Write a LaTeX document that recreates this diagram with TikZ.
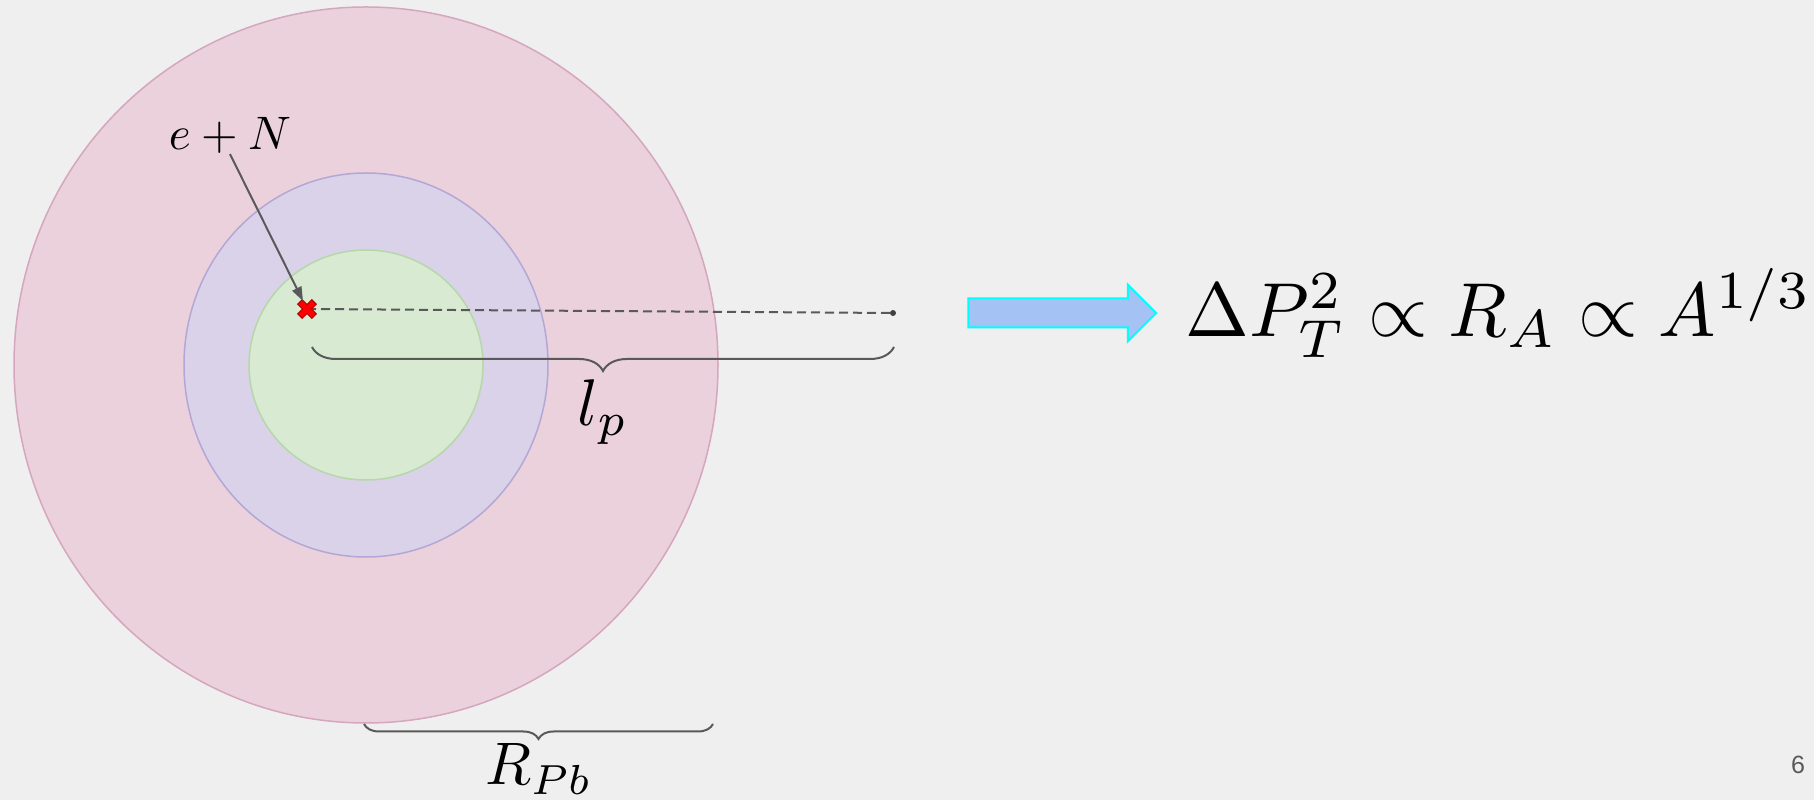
\documentclass[tikz,border=0pt]{standalone}
\usepackage{amsmath,amssymb}
\usepackage{graphicx}
\usepackage{xcolor}
\usepackage{fontspec}
\usepackage{tikz}
\usetikzlibrary{shapes.arrows,arrows.meta,positioning,decorations.pathreplacing}
\newfontfamily\slidefont{Liberation Sans}
\newcommand{\bigmath}[2]{\scalebox{#1}{$#2$}}
\definecolor{slidebg}{HTML}{EFEFEF}
\definecolor{pbfill}{HTML}{EAD1DC}
\definecolor{pbdraw}{HTML}{D5A6BD}
\definecolor{midfill}{HTML}{D9D2E9}
\definecolor{middraw}{HTML}{B4A7D6}
\definecolor{corefill}{HTML}{D9EAD3}
\definecolor{coredraw}{HTML}{B6D7A8}
\definecolor{linegray}{HTML}{595959}
\definecolor{arrowfill}{HTML}{A4C2F4}
\definecolor{arrowdraw}{HTML}{00FFFF}

\begin{document}
\begin{tikzpicture}[
    x=1pt, y=1pt,
    ring/.style={draw=#1, line width=1.5pt},
    guide/.style={draw=linegray, line width=2pt},
    spanbrace/.style={decorate, decoration={brace, mirror, amplitude=#1}, draw=linegray, line width=2pt},
    mathlbl/.style={inner sep=0pt}
]
\fill[slidebg] (0,0) rectangle (1814,800);
\useasboundingbox (0,0) rectangle (1814,800);
\coordinate (center) at (366,435);
\filldraw[ring=pbdraw, fill=pbfill] (center) ellipse [x radius=352pt, y radius=358pt];
\filldraw[ring=middraw, fill=midfill] (center) ellipse [x radius=182pt, y radius=192pt];
\filldraw[ring=coredraw, fill=corefill] (center) ellipse [x radius=117pt, y radius=115pt];
\coordinate (hit) at (307,491);
\node (far) [circle, fill=black!75, inner sep=0pt, minimum size=6pt] at (893,487) {};
\draw[guide, dash pattern=on 9pt off 5pt] (hit) -- (far);
\filldraw[fill=red, draw=red!70!black, line width=1pt, shift={(hit)}, rotate=45]
    (3.2,3.2) -- (3.2,10) -- (-3.2,10) -- (-3.2,3.2) -- (-10,3.2) -- (-10,-3.2) -- (-3.2,-3.2) -- (-3.2,-10)
    -- (3.2,-10) -- (3.2,-3.2) -- (10,-3.2) -- (10,3.2) -- cycle;
\node (eN) [mathlbl, anchor=base] at (230,650) {\bigmath{4.7}{e+N}};
\draw[guide, -{Triangle[length=14pt, width=10pt]}, shorten >=9pt] (eN.south) -- (hit);
\draw[spanbrace=24pt] (312,453) -- (894,453);
\node (lp) [mathlbl, anchor=base] at (603,374) {\bigmath{6.6}{l_p}};
\draw[spanbrace=15pt] (364,76) -- (713,76);
\node (rpb) [mathlbl, anchor=base] at (539,15) {\bigmath{6.0}{R_{Pb}}};
\node (push) [single arrow, draw=arrowdraw, fill=arrowfill, line width=2pt, minimum height=188pt,
    minimum width=55pt, single arrow head extend=14pt, inner xsep=0pt, inner ysep=13.5pt] at (1055,487) {};
\node (law) [mathlbl, right=28pt of push] {\bigmath{7.65}{\Delta P_T^2 \propto R_A \propto A^{1/3}}};
\node (page) [inner sep=0pt, font=\slidefont\fontsize{25}{25}\selectfont, text=linegray] at (1798,35) {6};
\end{tikzpicture}
\end{document}
